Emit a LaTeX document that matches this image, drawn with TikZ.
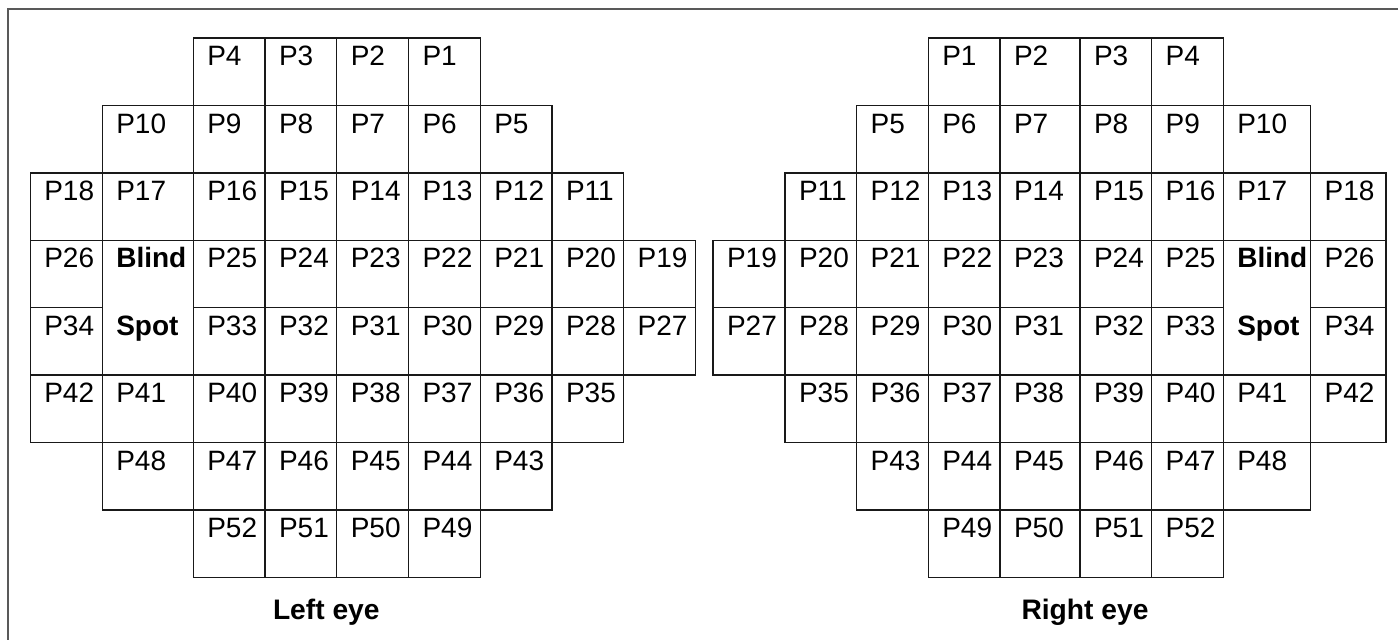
\documentclass[tikz,border=0pt]{standalone}
\usepackage{fontspec}
\setmainfont{Liberation Sans}
\begin{document}
\begin{tikzpicture}[x=1pt,y=-1pt,
  gridline/.style={draw=black!90, line width=1.4pt, line join=miter},
  celltext/.style={anchor=base west, inner sep=0pt, font=\fontsize{28}{33}\selectfont},
  boldtext/.style={anchor=base west, inner sep=0pt, font=\fontsize{28}{33}\selectfont\bfseries},
  eyelabel/.style={anchor=base, inner sep=0pt, font=\fontsize{28.2}{34}\selectfont\bfseries},
  frameline/.style={draw=black!65, line width=2.2pt}]
\useasboundingbox (0,0) rectangle (1398,640);
\def\RT{{38,105.42,172.84,240.26,307.68,375.1,442.52,509.94,577.36}}
\def\LX{{30.3,102.3,193.3,265.04,336.78,408.52,480.26,552,623.74,695.48}}
\def\RX{{713,785,856.7,928.3,1000,1080,1151.7,1223.3,1310.7,1386}}
\newcommand\eyecell[5]{%
  \pgfmathsetmacro\xa{#1[#3]}%
  \pgfmathsetmacro\xb{#1[#3+1]}%
  \pgfmathsetmacro\ya{\RT[#2]}%
  \pgfmathsetmacro\yb{\RT[#2+1]}%
  \draw[gridline] (\xa,\ya) rectangle (\xb,\yb);
  \node[celltext] (#5) at (\xa+13.8,\ya+27.6) {#4};
}
% outer frame (left and top edges)
\draw[frameline] (8.3,641) -- (8.3,9) -- (1399,9);
% ---------------- Left eye ----------------
\foreach \r/\c/\n in {
  0/2/4,0/3/3,0/4/2,0/5/1,
  1/1/10,1/2/9,1/3/8,1/4/7,1/5/6,1/6/5,
  2/0/18,2/1/17,2/2/16,2/3/15,2/4/14,2/5/13,2/6/12,2/7/11,
  3/0/26,3/2/25,3/3/24,3/4/23,3/5/22,3/6/21,3/7/20,3/8/19,
  4/0/34,4/2/33,4/3/32,4/4/31,4/5/30,4/6/29,4/7/28,4/8/27,
  5/0/42,5/1/41,5/2/40,5/3/39,5/4/38,5/5/37,5/6/36,5/7/35,
  6/1/48,6/2/47,6/3/46,6/4/45,6/5/44,6/6/43,
  7/2/52,7/3/51,7/4/50,7/5/49}
  {\eyecell{\LX}{\r}{\c}{P\n}{L\n}}
\draw[gridline] (102.3,240.26) rectangle (193.3,375.1);
\node[boldtext] (Lblind) at (116.1,267.86) {Blind};
\node[boldtext] (Lspot) at (116.1,335.28) {Spot};
\node[eyelabel] (Llabel) at (326.3,619.3) {Left eye};
% ---------------- Right eye ----------------
\foreach \r/\c/\n in {
  0/3/1,0/4/2,0/5/3,0/6/4,
  1/2/5,1/3/6,1/4/7,1/5/8,1/6/9,1/7/10,
  2/1/11,2/2/12,2/3/13,2/4/14,2/5/15,2/6/16,2/7/17,2/8/18,
  3/0/19,3/1/20,3/2/21,3/3/22,3/4/23,3/5/24,3/6/25,3/8/26,
  4/0/27,4/1/28,4/2/29,4/3/30,4/4/31,4/5/32,4/6/33,4/8/34,
  5/1/35,5/2/36,5/3/37,5/4/38,5/5/39,5/6/40,5/7/41,5/8/42,
  6/2/43,6/3/44,6/4/45,6/5/46,6/6/47,6/7/48,
  7/3/49,7/4/50,7/5/51,7/6/52}
  {\eyecell{\RX}{\r}{\c}{P\n}{R\n}}
\draw[gridline] (1223.3,240.26) rectangle (1310.7,375.1);
\node[boldtext] (Rblind) at (1237.1,267.86) {Blind};
\node[boldtext] (Rspot) at (1237.1,335.28) {Spot};
\node[eyelabel] (Rlabel) at (1085,619.3) {Right eye};
\end{tikzpicture}
\end{document}
